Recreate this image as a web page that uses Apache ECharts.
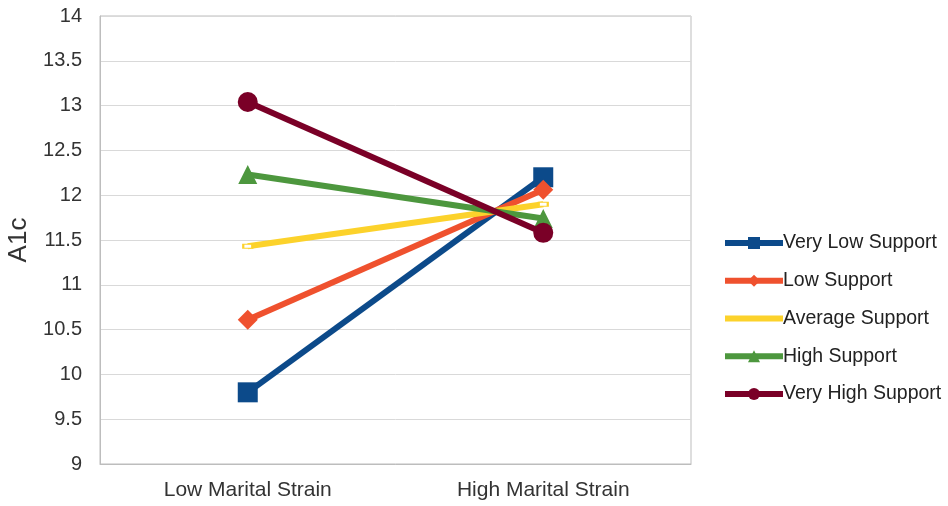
<!DOCTYPE html>
<html>
<head>
<meta charset="utf-8">
<script src="https://cdn.jsdelivr.net/npm/echarts@6/dist/echarts.min.js"></script>
<style>html,body{margin:0;padding:0;background:#fff}#c{width:948px;height:506px}</style>
</head>
<body>
<div id="c"></div>
<script>
const categories = ['Low Marital Strain', 'High Marital Strain'];
const seriesNames = ['Very Low Support', 'Low Support', 'Average Support', 'High Support', 'Very High Support'];
const veryLowSupport = [9.80, 12.20];
const lowSupport = [10.61, 12.06];
const averageSupport = [11.43, 11.90];
const highSupport = [12.23, 11.74];
const veryHighSupport = [13.04, 11.58];
const yTicks = [9, 9.5, 10, 10.5, 11, 11.5, 12, 12.5, 13, 13.5, 14];

const colors = ['#0C4A8A', '#EF512E', '#FCD22B', '#4D973E', '#7A0027'];
const symbols = ['rect', 'diamond', 'rect', 'triangle', 'circle'];
const symbolSizes = [20, 20, [9, 4], 19, 20];
const dataSets = [veryLowSupport, lowSupport, averageSupport, highSupport, veryHighSupport];

const chart = echarts.init(document.getElementById('c'));
const font = 'Liberation Sans, Arial, sans-serif';
chart.setOption({
  animation: false,
  backgroundColor: '#fff',
  grid: { left: 100, right: 257, top: 16, bottom: 42, show: true, borderColor: '#bdbdbd', borderWidth: 1, backgroundColor: 'transparent', containLabel: false, outerBoundsMode: 'none' },
  legend: {
    orient: 'vertical', left: 722, top: 233, padding: 0,
    itemWidth: 58, itemHeight: 15, itemGap: 17.75,
    lineStyle: { width: 6 },
    textStyle: { fontFamily: font, fontSize: 19.5, color: '#222', padding: [0, 0, 0, -5] },
    data: seriesNames.map((n, i) => (i === 2 ? { name: n, itemStyle: { color: 'transparent', borderWidth: 0, opacity: 0 } } : { name: n }))
  },
  xAxis: {
    type: 'category', data: categories, boundaryGap: true,
    axisLine: { show: true, lineStyle: { color: '#bdbdbd', width: 1 } },
    axisTick: { show: false },
    axisLabel: { fontFamily: font, fontSize: 21, color: '#333', margin: 16 },
    splitLine: { show: false }
  },
  yAxis: {
    type: 'value', min: 9, max: 14, interval: 0.5,
    name: 'A1c', nameLocation: 'middle', nameGap: 63, nameRotate: 90,
    nameTextStyle: { fontFamily: font, fontSize: 26, color: '#333' },
    axisLine: { show: true, lineStyle: { color: '#bdbdbd', width: 1 } },
    axisTick: { show: false },
    axisLabel: { fontFamily: font, fontSize: 20, color: '#333', margin: 18,
      formatter: v => (yTicks.includes(v) ? String(v) : '') },
    splitLine: { lineStyle: { color: '#d9d9d9', width: 1 } }
  },
  series: seriesNames.map((n, i) => ({
    name: n, type: 'line', data: dataSets[i],
    symbol: symbols[i], symbolSize: symbolSizes[i], showAllSymbol: true,
    lineStyle: { color: colors[i], width: 6 },
    itemStyle: i === 2 ? { color: '#fff', borderColor: colors[i], borderWidth: 1.5 } : { color: colors[i] },
    emphasis: { disabled: true },
    z: 2 + i
  }))
});
</script>
</body>
</html>
